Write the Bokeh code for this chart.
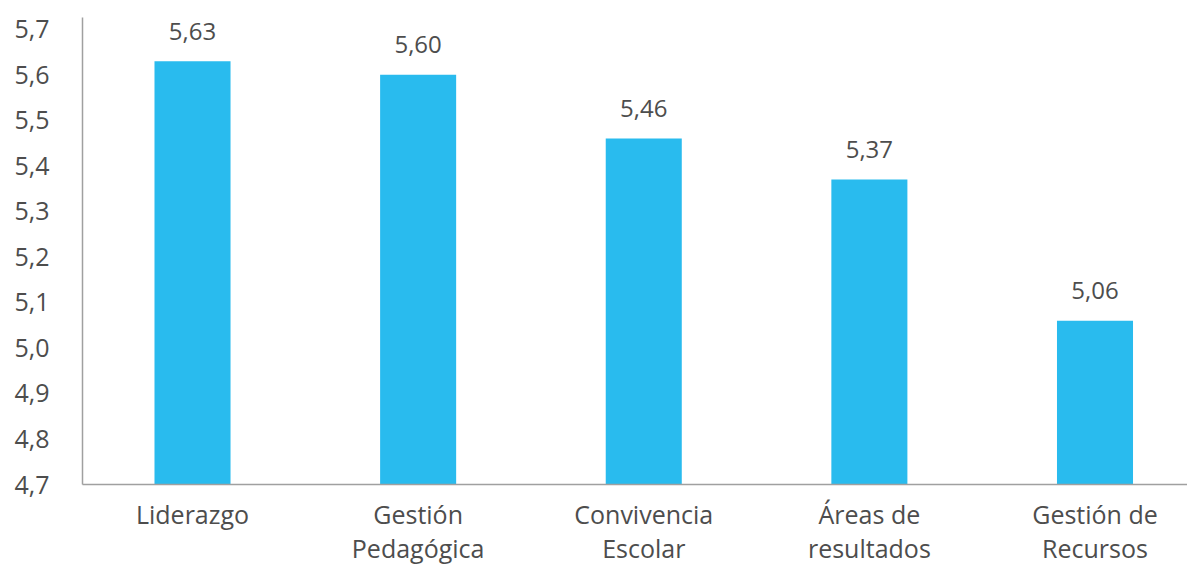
from bokeh.plotting import figure
from bokeh.models import ColumnDataSource, LabelSet, FixedTicker, Range1d
from bokeh.core.properties import value
from bokeh.embed import file_html
from bokeh.resources import INLINE

categories = ["Liderazgo", "Gestión\nPedagógica", "Convivencia\nEscolar", "Áreas de\nresultados", "Gestión de\nRecursos"]
values = [5.63, 5.60, 5.46, 5.37, 5.06]
value_labels = ["5,63", "5,60", "5,46", "5,37", "5,06"]
y_ticks = [4.7, 4.8, 4.9, 5.0, 5.1, 5.2, 5.3, 5.4, 5.5, 5.6, 5.7]
y_tick_labels = ["4,7", "4,8", "4,9", "5,0", "5,1", "5,2", "5,3", "5,4", "5,5", "5,6", "5,7"]

Y0 = 4.7
xs = list(range(len(categories)))
src = ColumnDataSource(dict(x=xs, top=values, lab=value_labels))

FONT = "Open Sans"
TXT = "#4d4d4d"
p = figure(width=1187, height=567, output_backend="svg", toolbar_location=None,
           x_range=Range1d(-0.4876, 4.410), y_range=Range1d(Y0, 5.726),
           min_border_left=82, min_border_right=0, min_border_top=17, min_border_bottom=83)
p.outline_line_color = None
p.grid.grid_line_color = None

p.vbar(x="x", top="top", bottom=Y0, width=0.337, source=src, fill_color="#29BBEE", line_color=None)

p.add_layout(LabelSet(x="x", y="top", text="lab", source=src, text_align="center", text_baseline="middle",
                      y_offset=30, text_font=value(FONT), text_font_size="24px", text_color=TXT))

p.yaxis.ticker = FixedTicker(ticks=y_ticks)
p.yaxis.major_label_overrides = {t: l for t, l in zip(y_ticks, y_tick_labels)}
p.xaxis.ticker = FixedTicker(ticks=xs)
p.xaxis.major_label_overrides = {i: c for i, c in zip(xs, categories)}

for ax in (p.xaxis[0], p.yaxis[0]):
    ax.axis_line_color = "#A0A0A0"
    ax.axis_line_width = 1.5
    ax.major_tick_line_color = None
    ax.minor_tick_line_color = None
    ax.major_label_text_font = FONT
    ax.major_label_text_color = TXT
p.yaxis.major_label_text_font_size = "25px"
p.yaxis.major_label_standoff = 27
p.xaxis.major_label_text_font_size = "25px"
p.xaxis.major_label_text_line_height = 1.0
p.xaxis.major_label_standoff = 6

open("out.html", "w").write(file_html(p, INLINE))
